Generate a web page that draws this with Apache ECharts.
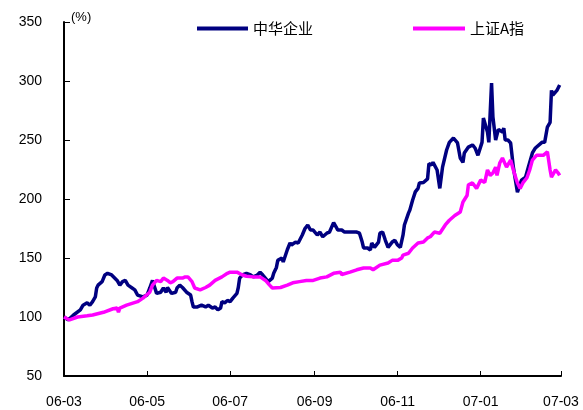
<!DOCTYPE html>
<html>
<head>
<meta charset="utf-8">
<script src="https://cdn.jsdelivr.net/npm/echarts@6/dist/echarts.min.js"></script>
<style>
html,body{margin:0;padding:0;background:#fff;}
#chart{width:583px;height:410px;}
</style>
</head>
<body>
<div id="chart"></div>
<script>
var seriesNames = ['中华企业', '上证A指'];
var yTicks = [50, 100, 150, 200, 250, 300, 350];

var zhDates = ['2006-03-01','2006-03-04','2006-03-08','2006-03-13','2006-03-15','2006-03-18','2006-03-20','2006-03-22','2006-03-24','2006-03-25','2006-03-26','2006-03-29','2006-03-31','2006-04-02','2006-04-05','2006-04-06','2006-04-09','2006-04-11','2006-04-13','2006-04-15','2006-04-17','2006-04-20','2006-04-22','2006-04-24','2006-04-28','2006-05-01','2006-05-03','2006-05-05','2006-05-08','2006-05-11','2006-05-13','2006-05-15','2006-05-16','2006-05-19','2006-05-22','2006-05-23','2006-05-25','2006-05-27','2006-05-30','2006-06-02','2006-06-03','2006-06-04','2006-06-07','2006-06-10','2006-06-13','2006-06-15','2006-06-18','2006-06-20','2006-06-22','2006-06-24','2006-06-25','2006-06-27','2006-06-29','2006-07-01','2006-07-03','2006-07-06','2006-07-07','2006-07-08','2006-07-10','2006-07-13','2006-07-16','2006-07-18','2006-07-21','2006-07-23','2006-07-25','2006-07-29','2006-08-01','2006-08-02','2006-08-04','2006-08-05','2006-08-08','2006-08-09','2006-08-12','2006-08-14','2006-08-15','2006-08-18','2006-08-20','2006-08-23','2006-08-25','2006-08-27','2006-08-29','2006-08-31','2006-09-03','2006-09-05','2006-09-07','2006-09-10','2006-09-12','2006-09-15','2006-09-17','2006-09-18','2006-09-21','2006-09-23','2006-09-27','2006-10-02','2006-10-04','2006-10-06','2006-10-07','2006-10-10','2006-10-12','2006-10-13','2006-10-15','2006-10-18','2006-10-19','2006-10-21','2006-10-23','2006-10-25','2006-10-28','2006-10-30','2006-11-01','2006-11-03','2006-11-05','2006-11-06','2006-11-09','2006-11-10','2006-11-12','2006-11-14','2006-11-16','2006-11-17','2006-11-20','2006-11-23','2006-11-24','2006-11-26','2006-11-27','2006-11-30','2006-12-02','2006-12-04','2006-12-07','2006-12-09','2006-12-12','2006-12-15','2006-12-17','2006-12-19','2006-12-20','2006-12-23','2006-12-26','2006-12-28','2006-12-30','2007-01-02','2007-01-03','2007-01-06','2007-01-07','2007-01-09','2007-01-10','2007-01-12','2007-01-14','2007-01-17','2007-01-18','2007-01-19','2007-01-21','2007-01-23','2007-01-25','2007-01-28','2007-01-29','2007-01-31','2007-02-03','2007-02-05','2007-02-08','2007-02-10','2007-02-15','2007-02-17','2007-02-19','2007-02-21','2007-02-22','2007-02-23','2007-02-26','2007-02-28'];
var zhValues = [100,97.5,101.7,106,110,112,110,113,117,124.6,127,130,135.6,137,135.6,137,131,127,130,131,127,124.6,123,118.6,117,118.6,124.6,131,120,121,124.6,121,125,120,121,124.6,127,125,121,118.6,113,108.5,108.5,110,108.5,110,107.6,108.5,106,107.6,113,112,114,113,116,120,125,133,135.6,137,135.6,134,135.6,138,135.6,130,133,137,142,148,150,146.6,157,162.7,161,163.5,162.7,169.5,175,178,173.7,173.7,169.5,172,168,171,172,180,176,173.7,173.7,172,172,172,171,163.5,158.5,158.5,156.8,162.7,159,163.5,171,172,165,159,163.5,165,161,159,169.5,178,188,190.7,199,206,209,213.6,214,217,230,228.8,231,224.6,209,227,241.5,248,251.7,247.5,234.7,231,239,244,245.8,243,237,248,268.6,256.8,248,298.3,269.5,250,259,256.8,260,250,250,247.5,227,205.7,207,216,218.6,227,239,243,248,248,261,265,292,288,292,296.6];

var szDates = ['2006-03-01','2006-03-05','2006-03-11','2006-03-18','2006-03-22','2006-03-30','2006-04-06','2006-04-09','2006-04-10','2006-04-11','2006-04-16','2006-04-24','2006-04-28','2006-05-03','2006-05-05','2006-05-08','2006-05-11','2006-05-13','2006-05-16','2006-05-18','2006-05-20','2006-05-23','2006-05-27','2006-05-29','2006-05-31','2006-06-03','2006-06-05','2006-06-09','2006-06-13','2006-06-16','2006-06-20','2006-06-25','2006-06-29','2006-07-01','2006-07-06','2006-07-10','2006-07-13','2006-07-18','2006-07-23','2006-07-27','2006-07-30','2006-08-01','2006-08-07','2006-08-12','2006-08-16','2006-08-21','2006-08-26','2006-08-31','2006-09-05','2006-09-10','2006-09-15','2006-09-20','2006-09-21','2006-09-27','2006-10-02','2006-10-07','2006-10-12','2006-10-14','2006-10-19','2006-10-25','2006-10-28','2006-11-01','2006-11-04','2006-11-05','2006-11-09','2006-11-12','2006-11-16','2006-11-20','2006-11-23','2006-11-25','2006-11-28','2006-12-02','2006-12-06','2006-12-09','2006-12-13','2006-12-17','2006-12-19','2006-12-22','2006-12-23','2006-12-26','2006-12-29','2007-01-01','2007-01-04','2007-01-06','2007-01-08','2007-01-10','2007-01-12','2007-01-13','2007-01-15','2007-01-17','2007-01-20','2007-01-23','2007-01-25','2007-01-28','2007-01-30','2007-02-01','2007-02-04','2007-02-06','2007-02-08','2007-02-11','2007-02-16','2007-02-19','2007-02-20','2007-02-21','2007-02-22','2007-02-25','2007-02-27','2007-02-28'];
var szValues = [100,97.5,100,101,101.7,104,107,107.6,104,107.6,110,113,116,121,127,131,130,133,131,129,130,133,133,134,134,130,124.6,123,125,127,131,134,137,138,138,135.6,134.5,134,134,131,127,124.6,125,127,129,130,131,131,133,134,137,138,136,138,140,141.5,141.5,140,144,145.8,148,148,150,152.5,154,158.5,162.7,163.5,167,168,172,171,178,182,186,189,197.5,203,212,213.6,209,216,214,224.6,220,222,227,220,230.5,234.7,227,233,224.6,213.6,209,213.6,218,224.6,233,237,237,240,240,224.6,218.6,224.6,222,220];

function pairs(d, v) {
  var out = [];
  for (var i = 0; i < d.length; i++) out.push([d[i], v[i]]);
  return out;
}

var chart = echarts.init(document.getElementById('chart'), null, {renderer: 'canvas'});
var font = '"Liberation Sans", Arial, sans-serif';
var cjk = '"Noto Sans CJK SC", sans-serif';

chart.setOption({
  animation: false,
  backgroundColor: '#ffffff',
  legend: [
    {
      data: [seriesNames[0]], left: 192, top: 16,
      icon: 'rect', itemWidth: 51, itemHeight: 4, itemGap: 0,
      textStyle: {fontFamily: cjk, fontSize: 15, color: '#000'}
    },
    {
      data: [seriesNames[1]], left: 408, top: 16,
      icon: 'rect', itemWidth: 52, itemHeight: 4, itemGap: 0,
      textStyle: {fontFamily: cjk, fontSize: 15, color: '#000'}
    }
  ],
  grid: {left: 64, right: 22, top: 22, bottom: 34, containLabel: false},
  xAxis: {
    type: 'time',
    min: '2006-03-01',
    max: '2007-03-01',
    splitNumber: 6,
    axisLine: {lineStyle: {color: '#000', width: 2}},
    axisTick: {inside: true, length: 5, lineStyle: {color: '#000', width: 1}},
    axisLabel: {formatter: '{yy}-{MM}', fontFamily: font, fontSize: 14, color: '#000', margin: 19, showMinLabel: true, showMaxLabel: true},
    splitLine: {show: false}
  },
  yAxis: {
    type: 'value',
    min: yTicks[0],
    max: yTicks[yTicks.length - 1],
    interval: 50,
    name: '(%)',
    nameLocation: 'end',
    nameGap: -2,
    nameTextStyle: {fontFamily: font, fontSize: 13, color: '#000', align: 'left', padding: [0, 0, 0, 7]},
    axisLine: {show: true, lineStyle: {color: '#000', width: 2}},
    axisTick: {show: true, inside: true, length: 6, lineStyle: {color: '#000', width: 1}},
    axisLabel: {fontFamily: font, fontSize: 14, color: '#000', margin: 22},
    splitLine: {show: false}
  },
  series: [
    {
      name: seriesNames[0], type: 'line', data: pairs(zhDates, zhValues),
      showSymbol: false, symbol: 'none',
      lineStyle: {color: '#000080', width: 3.5}, itemStyle: {color: '#000080'}
    },
    {
      name: seriesNames[1], type: 'line', data: pairs(szDates, szValues),
      showSymbol: false, symbol: 'none',
      lineStyle: {color: '#FF00FF', width: 3.5}, itemStyle: {color: '#FF00FF'}
    }
  ]
});
</script>
</body>
</html>
